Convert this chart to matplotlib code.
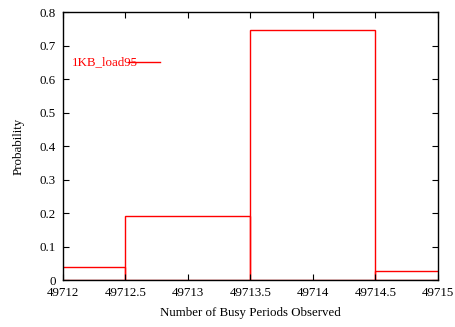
import matplotlib
matplotlib.use("Agg")
import matplotlib.pyplot as plt

# busy period counts and their observed probabilities
busy_periods = [49712, 49713, 49714, 49715]
probability = [0.040, 0.191, 0.745, 0.027]
series_name = "1KB_load95"

xticks = [49712, 49712.5, 49713, 49713.5, 49714, 49714.5, 49715]
xtick_labels = ["49712", "49712.5", "49713", "49713.5", "49714", "49714.5", "49715"]
yticks = [0, 0.1, 0.2, 0.3, 0.4, 0.5, 0.6, 0.7, 0.8]
ytick_labels = ["0", "0.1", "0.2", "0.3", "0.4", "0.5", "0.6", "0.7", "0.8"]

plt.rcParams["font.family"] = ["Liberation Serif", "DejaVu Serif"]
plt.rcParams["font.size"] = 9.3

fig = plt.figure(figsize=(4.56, 3.27), dpi=100)
ax = fig.add_axes([0.138, 0.1437, 0.8225, 0.8196])

ax.bar(busy_periods, probability, width=1.0, align="center",
       facecolor="none", edgecolor="#ff0000", linewidth=1.0)

# legend sample drawn the gnuplot way: label then a short line
ax.plot([49712.52, 49712.78], [0.65, 0.65], color="#ff0000", linewidth=1.0)
ax.text(49712.6, 0.65, series_name, color="#ff0000", ha="right", va="center")

ax.set_xlim(49712, 49715)
ax.set_ylim(0, 0.8)
ax.set_xticks(xticks)
ax.set_xticklabels(xtick_labels)
ax.set_yticks(yticks)
ax.set_yticklabels(ytick_labels)
ax.tick_params(direction="in", top=True, right=True, length=4, width=0.8, pad=5)
for s in ax.spines.values():
    s.set_linewidth(1.0)

ax.set_xlabel("Number of Busy Periods Observed", labelpad=6)
ax.set_ylabel("Probability", labelpad=11)

fig.savefig("out.png", dpi=100)
